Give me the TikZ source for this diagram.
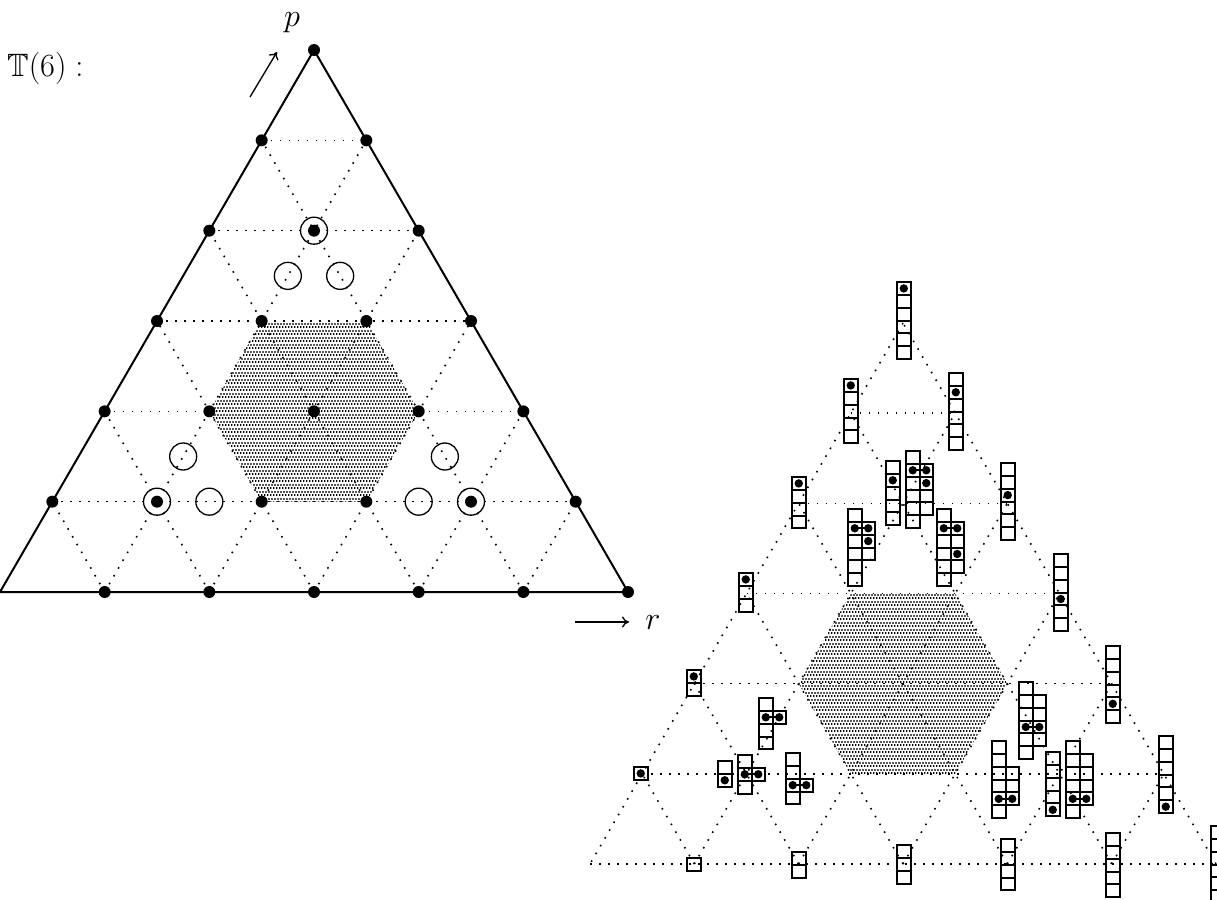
\documentclass[tikz,border=0pt]{standalone}
\usepackage{amssymb}
\usepackage{graphicx}
\usetikzlibrary{patterns,calc,arrows.meta}
\pgfdeclarepatternformonly{hexdots}{\pgfqpoint{0pt}{0pt}}{\pgfqpoint{3.3pt}{6.6pt}}{\pgfqpoint{3.3pt}{6.6pt}}{%
  \pgfpathrectangle{\pgfqpoint{0pt}{0pt}}{\pgfqpoint{1.6pt}{1.9pt}}%
  \pgfpathrectangle{\pgfqpoint{1.65pt}{3.3pt}}{\pgfqpoint{1.6pt}{1.9pt}}%
  \pgfusepath{fill}}
\def\bw{13.5}
\def\bh{12.85}
\newcommand{\ycol}[4]{\foreach \k in {#3,...,#4}{\draw[boxline] ({#1},{#2+(\k-1)*\bh}) rectangle ++(\bw,\bh);}}
\newcommand{\ydot}[3]{\fill ({#1+\bw/2},{#2+(#3-0.5)*\bh}) circle[radius=4.2pt];}
\newcommand{\ypair}[3]{\draw[line width=1.8pt] ({#1+\bw/2},{#2+(#3-0.5)*\bh}) -- ({#1+1.5*\bw},{#2+(#3-0.5)*\bh});\ydot{#1}{#2}{#3}\ydot{#1+\bw}{#2}{#3}}
\newcommand{\biglbl}[1]{\scalebox{1.3}{\Huge #1}}
\begin{document}
\begin{tikzpicture}[x=1pt,y=-1pt,
  edge/.style={line width=2pt},
  gridline/.style={line width=1.6pt,dash pattern=on 1.6pt off 7.4pt},
  boxline/.style={line width=2pt},
  circ/.style={line width=1.3pt},
  lbl/.style={inner sep=0pt},
  axarrow/.style={line width=1.3pt,-{To[length=7pt,width=11pt]}}]
\useasboundingbox (0,0) rectangle (1217,899);
% grid coordinates
\foreach \j in {0,...,6}{\pgfmathtruncatemacro\m{6-\j}
  \foreach \i in {0,...,\m}{
    \coordinate (L\i-\j) at ({104.67*(\i+\j/2)},{592-90.33*\j});
    \coordinate (R\i-\j) at ({590+104.33*(\i+\j/2)},{864-90.17*\j});
  }}
% shaded hexagons
\fill[pattern=hexdots] (L1-3)--(L2-3)--(L3-2)--(L3-1)--(L2-1)--(L1-2)--cycle;
\fill[pattern=hexdots] (R1-3)--(R2-3)--(R3-2)--(R3-1)--(R2-1)--(R1-2)--cycle;
% dotted grid lines
\foreach \k in {1,...,5}{\pgfmathtruncatemacro\m{6-\k}
  \draw[gridline] (L0-\k) -- (L\m-\k);
  \draw[gridline] (L\k-0) -- (L\k-\m);
  \draw[gridline] (L\k-0) -- (L0-\k);
  \draw[gridline] (R0-\k) -- (R\m-\k);
  \draw[gridline] (R\k-0) -- (R\k-\m);
  \draw[gridline] (R\k-0) -- (R0-\k);
}
% outer edges
\draw[edge] (L0-0) -- (L6-0) -- (L0-6) -- cycle;
\draw[gridline] (R0-0) -- (R6-0);
\draw[gridline] (R6-0) -- (R0-6);
\draw[gridline] (R0-6) -- (R0-0);
% dots of the left triangle
\foreach \j in {0,...,6}{\pgfmathtruncatemacro\m{6-\j}
  \foreach \i in {0,...,\m}{
    \ifnum\i\j=00\else\fill (L\i-\j) circle[radius=6pt];\fi
  }}
% circled points
\foreach \p in {L1-4,L1-1,L4-1}{\draw[circ] (\p) circle[radius=13.5pt];}
% open circles
\draw[circ] ($(L1-3)!0.5!(L1-4)$) circle[radius=13.5pt];
\draw[circ] ($(L2-3)!0.5!(L1-4)$) circle[radius=13.5pt];
\draw[circ] ($(L1-1)!0.5!(L1-2)$) circle[radius=13.5pt];
\draw[circ] ($(L1-1)!0.5!(L2-1)$) circle[radius=13.5pt];
\draw[circ] ($(L3-1)!0.5!(L4-1)$) circle[radius=13.5pt];
\draw[circ] ($(L4-1)!0.5!(L3-2)$) circle[radius=13.5pt];
% labels and axis arrows
\node[lbl,anchor=base west] (title) at (7,76) {\biglbl{$\mathbb{T}(6):$}};
\node[lbl,anchor=base] (plabel) at (292,27) {\biglbl{$p$}};
\coordinate (pa) at (250,97);
\coordinate (pb) at (277,52);
\draw[axarrow] (pa) -- (pb);
\node[lbl,anchor=base] (rlabel) at (653,629) {\biglbl{$r$}};
\coordinate (ra) at (575,622);
\coordinate (rb) at (629,622);
\draw[axarrow] (ra) -- (rb);
% diagrams of the right triangle
\ycol{897}{282}{1}{6}\ydot{897}{282}{1}
\ycol{844}{379}{1}{5}\ydot{844}{379}{1}
\ycol{949}{373}{1}{6}\ydot{949}{373}{2}
\ycol{792}{477}{1}{4}\ydot{792}{477}{1}
\ycol{886}{461}{1}{5}\ydot{886}{461}{2}
\ycol{906}{451}{1}{6}\ycol{906+\bw}{451}{2}{5}\ypair{906}{451}{2}\ydot{906+\bw}{451}{3}
\ycol{1001}{463}{1}{6}\ydot{1001}{463}{3}
\ycol{739}{573}{1}{3}\ydot{739}{573}{1}
\ycol{848}{509}{1}{6}\ycol{848+\bw}{509}{2}{4}\ypair{848}{509}{2}\ydot{848+\bw}{509}{3}
\ycol{937}{509}{1}{6}\ycol{937+\bw}{509}{2}{5}\ypair{937}{509}{2}\ydot{937+\bw}{509}{4}
\ycol{1054}{554}{1}{6}\ydot{1054}{554}{4}
\ycol{687}{670}{1}{2}\ydot{687}{670}{1}
\ycol{759}{698}{1}{4}\ycol{759+\bw}{698}{2}{2}\ypair{759}{698}{2}
\ycol{1019}{682}{1}{6}\ycol{1019+\bw}{682}{2}{5}\ypair{1019}{682}{4}
\ycol{1106}{646}{1}{6}\ydot{1106}{646}{5}
\ycol{634}{767}{1}{1}\ydot{634}{767}{1}
\ycol{718}{761}{1}{2}\ydot{718}{761}{2}
\ycol{738}{755}{1}{3}\ycol{738+\bw}{755}{2}{2}\ypair{738}{755}{2}
\ycol{786}{753}{1}{4}\ycol{786+\bw}{753}{3}{3}\ypair{786}{753}{3}
\ycol{992}{741}{1}{6}\ycol{992+\bw}{741}{3}{5}\ypair{992}{741}{5}
\ycol{1046}{752}{1}{5}\ydot{1046}{752}{5}
\ycol{1066}{741}{1}{6}\ycol{1066+\bw}{741}{2}{5}\ypair{1066}{741}{5}
\ycol{1159}{736}{1}{6}\ydot{1159}{736}{6}
\ycol{687}{858}{1}{1}
\ycol{792}{852}{1}{2}
\ycol{897}{845}{1}{3}
\ycol{1001}{839}{1}{4}
\ycol{1106}{833}{1}{5}
\ycol{1211}{826}{1}{6}
\end{tikzpicture}
\end{document}
